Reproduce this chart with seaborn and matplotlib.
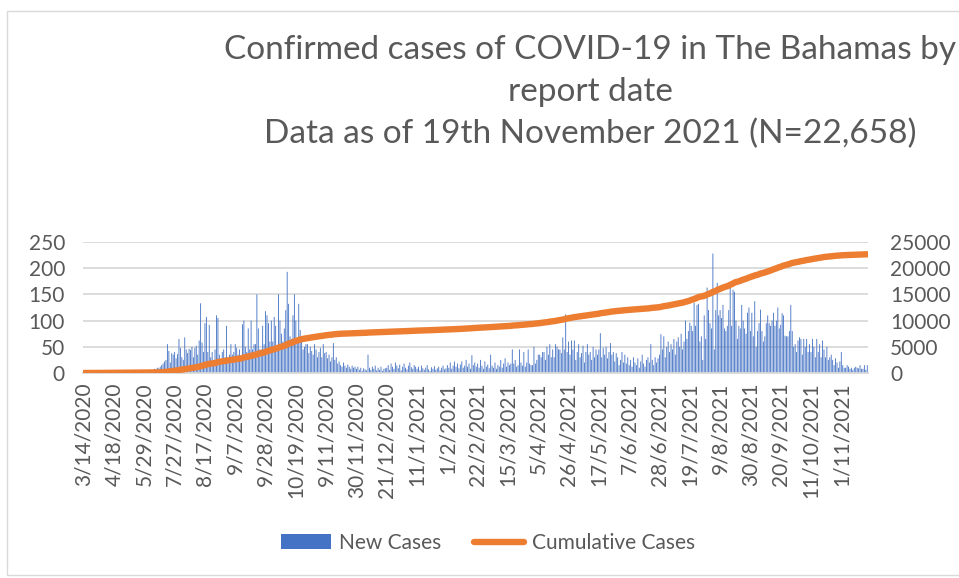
import numpy as np
import pandas as pd
import matplotlib
matplotlib.use("Agg")
import matplotlib.pyplot as plt
import seaborn as sns
from matplotlib.patches import Patch, Rectangle
from matplotlib.lines import Line2D

# ---------------- data ----------------
tick_labels = ["3/14/2020", "4/18/2020", "5/29/2020", "7/27/2020", "8/17/2020",
               "9/7/2020", "9/28/2020", "10/19/2020", "9/11/2020", "30/11/2020",
               "21/12/2020", "11/1/2021", "1/2/2021", "22/2/2021", "15/3/2021",
               "5/4/2021", "26/4/2021", "17/5/2021", "7/6/2021", "28/6/2021",
               "19/7/2021", "9/8/2021", "30/8/2021", "20/9/2021", "11/10/2021",
               "1/11/2021"]
label_every = 21  # one category label every 21 report dates

seg_00 = [1, 0, 1, 2, 1, 0, 3, 1, 2, 4, 1, 2, 3, 1, 0, 2, 5, 3, 1, 2,
          4, 2, 1, 3, 0, 2, 1, 1, 0, 2, 1, 0, 1, 3, 2, 1, 0, 1, 2, 0,
          1, 0, 2, 1, 3, 2, 4, 6, 5, 8, 7, 10, 9, 12, 15,
          18, 22, 25, 55, 42, 20, 38, 35]
seg_01 = [40, 28, 36, 65, 48, 30, 25, 68, 45, 38, 46, 44, 50, 30, 48, 52, 35, 62, 133, 58, 40]
seg_02 = [95, 107, 40, 92, 30, 40, 25, 45, 110, 105, 35, 20, 40, 45, 30, 90, 30, 35, 55, 35, 40]
seg_03 = [55, 48, 35, 45, 30, 93, 100, 50, 40, 85, 45, 100, 45, 55, 55, 150, 85, 45, 45, 90, 55]
seg_04 = [118, 110, 95, 60, 100, 60, 107, 90, 50, 150, 100, 75, 60, 85, 120, 193, 132, 70, 65, 110, 150]
seg_05 = [100, 65, 132, 82, 60, 45, 50, 55, 55, 38, 50, 42, 35, 55, 45, 30, 40, 48, 30, 55, 38]
seg_06 = [40, 28, 35, 22, 30, 57, 25, 30, 18, 22, 15, 12, 20, 14, 10, 16, 12, 8, 14, 10, 12]
seg_07 = [8, 12, 6, 10, 4, 9, 7, 5, 35, 10, 6, 12, 8, 14, 5, 10, 6, 12, 4, 8, 9]
seg_08 = [10, 15, 6, 18, 12, 8, 20, 14, 9, 16, 5, 12, 18, 10, 7, 14, 20, 11, 8, 15, 12]
seg_09 = [8, 12, 5, 14, 9, 6, 10, 15, 7, 4, 11, 8, 13, 6, 9, 12, 5, 10, 14, 7, 9]
seg_10 = [15, 10, 20, 8, 14, 22, 12, 18, 9, 16, 22, 10, 14, 25, 12, 18, 8, 34, 15, 20, 12]
seg_11 = [18, 10, 25, 14, 8, 22, 12, 16, 9, 35, 14, 10, 20, 8, 15, 12, 25, 10, 18, 28, 12]
seg_12 = [20, 15, 18, 45, 18, 25, 12, 15, 45, 20, 14, 40, 12, 20, 45, 18, 15, 15, 50, 18, 25]
seg_13 = [35, 35, 30, 40, 40, 25, 50, 35, 55, 30, 45, 30, 55, 50, 45, 45, 38, 68, 45, 112, 40]
seg_14 = [60, 35, 62, 45, 62, 25, 40, 55, 30, 38, 52, 20, 40, 55, 35, 40, 25, 50, 30, 45, 35]
seg_15 = [45, 76, 30, 48, 35, 50, 28, 40, 57, 35, 40, 22, 38, 30, 15, 25, 40, 20, 35, 18, 30]
seg_16 = [15, 25, 12, 30, 20, 15, 28, 10, 22, 35, 18, 12, 25, 30, 20, 55, 25, 15, 30, 20, 28]
seg_17 = [35, 74, 45, 70, 30, 50, 60, 40, 55, 45, 65, 35, 60, 68, 50, 75, 45, 60, 100, 65, 80]
seg_18 = [96, 90, 80, 134, 90, 130, 132, 60, 70, 25, 110, 65, 163, 120, 95, 85, 228, 45, 120, 172, 110]
seg_19 = [120, 105, 130, 85, 80, 90, 120, 165, 90, 159, 155, 100, 65, 90, 85, 130, 100, 85, 75, 115, 125]
seg_20 = [80, 115, 70, 137, 50, 80, 95, 121, 80, 60, 70, 95, 110, 95, 90, 100, 115, 90, 100, 125, 85]
seg_21 = [92, 114, 110, 71, 70, 70, 80, 130, 80, 50, 55, 40, 62, 68, 65, 35, 65, 50, 65, 40, 55]
seg_22 = [40, 65, 50, 30, 65, 40, 55, 30, 62, 45, 30, 50, 25, 30, 35, 25, 15, 28, 20, 10, 22]
seg_23 = [40, 15, 10, 10, 15, 12, 8, 10, 6, 10, 12, 10, 9, 15, 8, 8, 15, 6, 15]

new_cases = (seg_00 + seg_01 + seg_02 + seg_03 + seg_04 + seg_05 + seg_06 + seg_07 +
             seg_08 + seg_09 + seg_10 + seg_11 + seg_12 + seg_13 + seg_14 + seg_15 +
             seg_16 + seg_17 + seg_18 + seg_19 + seg_20 + seg_21 + seg_22 + seg_23)

df = pd.DataFrame({"day": np.arange(len(new_cases)), "new": new_cases})
df["cum"] = df["new"].cumsum()

# ---------------- styling ----------------
sns.set_theme(style="white")
plt.rcParams['font.family'] = ['Lato', 'DejaVu Sans']
TXT = "#595959"
GRID = "#D9D9D9"
BLUE = "#4472C4"
ORANGE = "#ED7D31"

W, H = 959, 578
fig = plt.figure(figsize=(W / 100, H / 100), dpi=100)
ax = fig.add_axes([83 / W, 1 - 373 / H, (868 - 83) / W, (373 - 242) / H])

sns.barplot(data=df, x="day", y="new", ax=ax, color=BLUE, width=0.6,
            linewidth=0, saturation=1, errorbar=None, native_scale=True,
            snap=False)
ax2 = ax.twinx()
sns.lineplot(data=df, x="day", y="cum", ax=ax2, color=ORANGE, linewidth=4.6,
             solid_capstyle="round", legend=False)

n = len(new_cases)
ax.set_xlim(-0.5, n - 0.5)
ax.set_ylim(0, 250)
ax2.set_ylim(0, 25000)
ax.set_yticks(range(0, 251, 50))
ax2.set_yticks(range(0, 25001, 5000))
ax.set_xticks(np.arange(len(tick_labels)) * label_every, tick_labels)

ax.yaxis.grid(True, color=GRID, linewidth=1.3)
ax.set_axisbelow(True)
for a in (ax, ax2):
    for s in a.spines.values():
        s.set_visible(False)
    a.set_xlabel("")
    a.set_ylabel("")
ax.spines["bottom"].set_visible(True)
ax.spines["bottom"].set_color(GRID)
ax.spines["bottom"].set_linewidth(1.3)

ax.tick_params(axis="x", length=0, pad=7, labelsize=15, labelcolor=TXT, labelrotation=90)
ax.tick_params(axis="y", length=0, pad=13, labelsize=15, labelcolor=TXT)
ax2.tick_params(axis="y", length=0, pad=16, labelsize=15, labelcolor=TXT)

fig.text(590 / W, 1 - 92 / H,
         "Confirmed cases of COVID-19 in The Bahamas by\nreport date\n"
         "Data as of 19th November 2021 (N=22,658)",
         ha="center", va="center", fontsize=24, color=TXT, linespacing=1.5)

handles = [Patch(facecolor=BLUE, edgecolor="none", label="New Cases"),
           Line2D([0], [0], color=ORANGE, lw=4.6, solid_capstyle="round",
                  label="Cumulative Cases")]
fig.legend(handles=handles, loc="center", bbox_to_anchor=(488 / W, 1 - 543 / H),
           ncol=2, frameon=False, fontsize=15, handlelength=2.4,
           handletextpad=0.35, columnspacing=1.6, labelcolor=TXT)

fig.patches.append(Rectangle((7 / W, 3 / H), 1.0, 1 - 14 / H, transform=fig.transFigure,
                             fill=False, edgecolor=GRID, linewidth=1.0))

fig.savefig("out.png", dpi=100)
